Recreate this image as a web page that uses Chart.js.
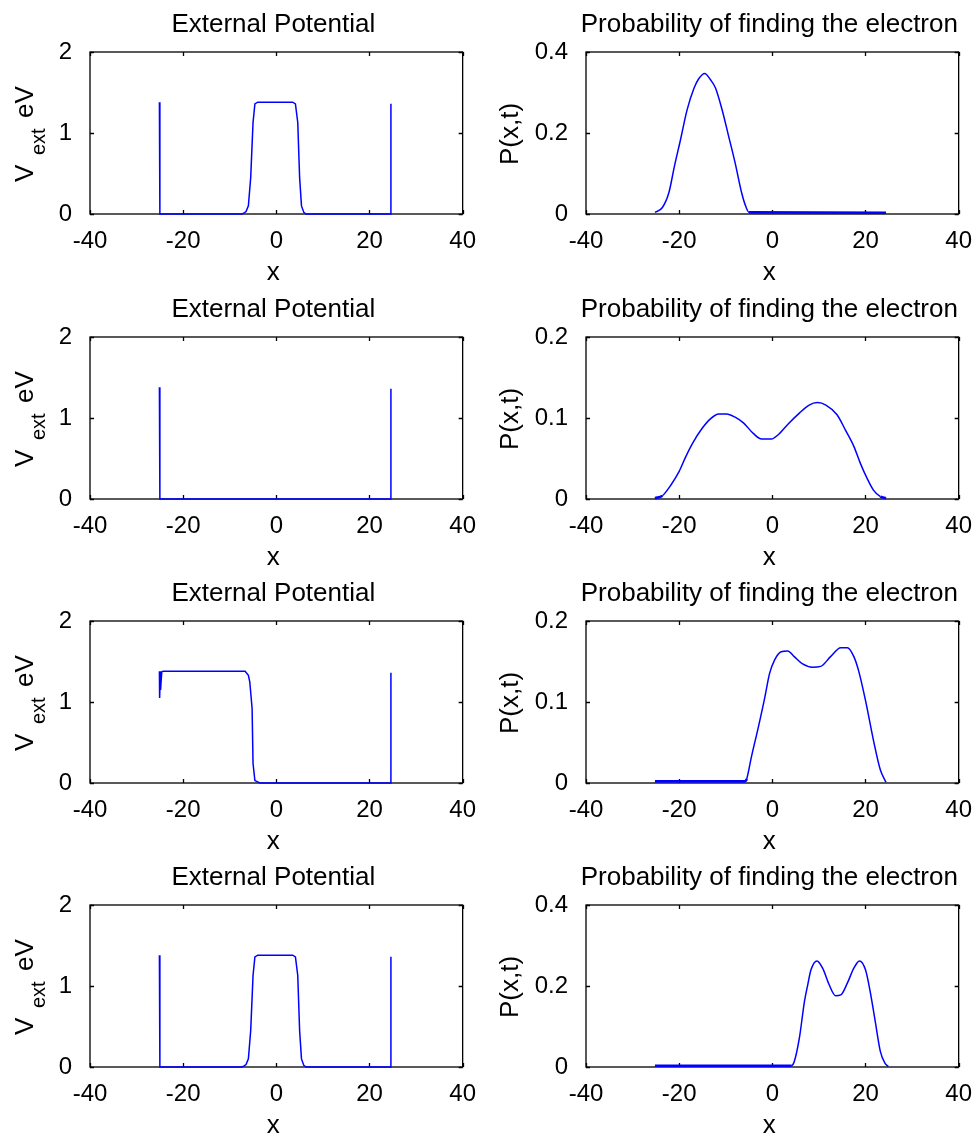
<!DOCTYPE html>
<html>
<head>
<meta charset="utf-8">
<script src="https://cdn.jsdelivr.net/npm/chart.js@4.4.1/dist/chart.umd.min.js"></script>
<style>
  html, body { margin: 0; padding: 0; background: #fff; overflow: hidden; }
  body { width: 977px; height: 1135px; position: relative; }
  canvas { position: absolute; }
</style>
</head>
<body>
<canvas id="c0" width="481" height="282" style="left:0px;top:0px"></canvas>
<canvas id="c1" width="481" height="282" style="left:496px;top:0px"></canvas>
<canvas id="c2" width="481" height="282" style="left:0px;top:285px"></canvas>
<canvas id="c3" width="481" height="282" style="left:496px;top:285px"></canvas>
<canvas id="c4" width="481" height="282" style="left:0px;top:569px"></canvas>
<canvas id="c5" width="481" height="282" style="left:496px;top:569px"></canvas>
<canvas id="c6" width="481" height="282" style="left:0px;top:853px"></canvas>
<canvas id="c7" width="481" height="282" style="left:496px;top:853px"></canvas>
<script>
// ---------- data ----------
const xTickValues = [-40, -20, 0, 20, 40];
const titlePotential = "External Potential";
const titleProb = "Probability of finding the electron";
const xLabel = "x";
const probLabel = "P(x,t)";

// External potential, barrier in the middle (rows 1 and 4)
const potA_x = [-25.1, -25.0, -7.4, -7.0, -6.5, -6.0, -5.5, -5.0, -4.6, -4.0, 3.5, 4.1, 4.6, 5.0, 5.4, 5.9, 6.4, 24.5, 24.6];
const potA_y = [1.38, 0, 0, 0.01, 0.03, 0.10, 0.45, 1.13, 1.36, 1.38, 1.38, 1.36, 1.13, 0.45, 0.10, 0.02, 0, 0, 1.36];
// External potential, walls only (row 2)
const potB_x = [-25.1, -25.0, 24.5, 24.6];
const potB_y = [1.38, 0, 0, 1.36];
// External potential, barrier on the left (row 3)
const potC_x = [-25.1, -25.05, -24.9, -24.85, -24.6, -24.3, -6.7, -6.0, -5.7, -5.2, -5.0, -4.6, -3.5, 24.5, 24.6];
const potC_y = [1.38, 1.05, 1.38, 1.15, 1.37, 1.38, 1.38, 1.33, 1.25, 0.92, 0.24, 0.03, 0, 0, 1.36];

// Probability curves
const p1_x = [-25.2, -23.6, -22.2, -21.0, -19.7, -18.3, -16.8, -15.8, -14.5, -13.3, -12.2, -10.8, -9.4, -8.0, -6.6, -5.9, -5.0, 24.4];
const p1_y = [0.004, 0.016, 0.053, 0.119, 0.184, 0.257, 0.311, 0.334, 0.347, 0.332, 0.311, 0.258, 0.193, 0.127, 0.053, 0.025, 0.004, 0.003];

const p2_x = [-25.2, -23.6, -21.8, -20.0, -18.6, -17.1, -15.1, -13.3, -11.5, -9.8, -8.0, -6.2, -4.1, -2.3, -0.2, 1.2, 3.3, 5.8, 7.9, 9.7, 11.5, 13.9, 15.7, 17.5, 18.9, 20.3, 21.7, 23.2, 24.4];
const p2_y = [0.001, 0.004, 0.017, 0.034, 0.052, 0.069, 0.087, 0.099, 0.105, 0.105, 0.101, 0.094, 0.081, 0.074, 0.074, 0.079, 0.092, 0.106, 0.116, 0.119, 0.116, 0.104, 0.085, 0.065, 0.044, 0.026, 0.011, 0.003, 0.001];

const p3_x = [-25.2, -5.9, -5.5, -4.5, -3.0, -1.6, -0.6, 0.5, 1.9, 3.3, 4.7, 6.5, 8.6, 10.4, 12.5, 14.7, 16.1, 17.5, 18.5, 20.0, 21.7, 23.2, 24.4];
const p3_y = [0.002, 0.002, 0.005, 0.032, 0.069, 0.106, 0.135, 0.152, 0.162, 0.163, 0.156, 0.147, 0.143, 0.144, 0.156, 0.167, 0.167, 0.156, 0.139, 0.102, 0.053, 0.016, 0.001];

const p4_x = [-25.2, 4.0, 4.7, 5.8, 6.9, 7.6, 8.3, 9.6, 10.8, 12.2, 13.6, 14.7, 16.1, 17.5, 18.7, 20.0, 21.0, 22.1, 23.2, 24.2, 24.9];
const p4_y = [0.003, 0.003, 0.013, 0.071, 0.162, 0.203, 0.240, 0.262, 0.244, 0.203, 0.176, 0.178, 0.207, 0.244, 0.262, 0.240, 0.187, 0.112, 0.038, 0.009, 0.001];

const potTicks = [0, 1, 2];
const probTicksHigh = [0, 0.2, 0.4];
const probTicksLow = [0, 0.1, 0.2];

// ---------- drawing ----------
const FONT = '"Liberation Sans", Arial, sans-serif';
const BLUE = '#0000ff';

const framePlugin = {
  id: 'frame',
  beforeDatasetsDraw(chart) {
    const { ctx, chartArea: a, scales: { x, y } } = chart;
    ctx.save();
    ctx.strokeStyle = '#000';
    ctx.lineWidth = 1.3;
    ctx.strokeRect(a.left, a.top, a.right - a.left, a.bottom - a.top);
    const tl = 4;
    ctx.beginPath();
    for (const t of x.ticks) {
      const px = Math.round(x.getPixelForValue(t.value)) + 0.5;
      ctx.moveTo(px, a.bottom); ctx.lineTo(px, a.bottom - tl);
      ctx.moveTo(px, a.top); ctx.lineTo(px, a.top + tl);
    }
    for (const t of y.ticks) {
      const py = Math.round(y.getPixelForValue(t.value)) + 0.5;
      ctx.moveTo(a.left, py); ctx.lineTo(a.left + tl, py);
      ctx.moveTo(a.right, py); ctx.lineTo(a.right - tl, py);
    }
    ctx.stroke();
    ctx.restore();
  },
  afterDraw(chart) {
    const { ctx, chartArea: a } = chart;
    const o = chart.options.plugins.frame;
    const cx = (a.left + a.right) / 2 - 3;
    const cy = (a.top + a.bottom) / 2;
    ctx.save();
    ctx.fillStyle = '#000';
    ctx.textBaseline = 'alphabetic';
    ctx.font = '26px ' + FONT;
    ctx.textAlign = 'center';
    ctx.fillText(o.title, cx, a.top - 20);
    ctx.fillText(xLabel, cx, a.bottom + 66);
    // y label
    if (o.kind === 'pot') {
      ctx.translate(a.left - 57, cy + 3);
      ctx.rotate(-Math.PI / 2);
      ctx.textAlign = 'left';
      ctx.font = '26px ' + FONT;
      ctx.fillText('V', -46, 0);
      ctx.font = '20px ' + FONT;
      ctx.fillText('ext', -19, 12);
      ctx.font = '26px ' + FONT;
      ctx.fillText('eV', 18, 0);
    } else {
      ctx.translate(a.left - 68, cy + 1);
      ctx.rotate(-Math.PI / 2);
      ctx.textAlign = 'center';
      ctx.font = '26px ' + FONT;
      ctx.fillText(probLabel, 0, 0);
    }
    ctx.restore();
  }
};

function makeChart(id, xs, ys, ticks, kind, title) {
  const pts = xs.map((v, i) => ({ x: v, y: ys[i] }));
  const smooth = kind === 'prob';
  return new Chart(document.getElementById(id), {
    type: 'scatter',
    data: {
      datasets: [{
        data: pts,
        showLine: true,
        borderColor: BLUE,
        backgroundColor: BLUE,
        borderWidth: 1.5,
        pointRadius: 0,
        tension: 0,
        cubicInterpolationMode: smooth ? 'monotone' : 'default',
        clip: false,
        segment: smooth ? {
          borderWidth: c => (c.p0.parsed.y < 0.006 && c.p1.parsed.y < 0.006) ? 2.6 : 1.5
        } : undefined
      }]
    },
    options: {
      responsive: false,
      animation: false,
      devicePixelRatio: 1,
      layout: { padding: { top: 52, right: 14, left: 0, bottom: 0 } },
      plugins: {
        legend: { display: false },
        tooltip: { enabled: false },
        title: { display: false },
        frame: { kind: kind, title: title }
      },
      scales: {
        x: {
          type: 'linear',
          min: xTickValues[0],
          max: xTickValues[xTickValues.length - 1],
          afterBuildTicks: s => { s.ticks = xTickValues.map(v => ({ value: v })); },
          ticks: { color: '#000', font: { family: FONT, size: 24 }, padding: 5, maxRotation: 0, autoSkip: false },
          grid: { display: false },
          border: { display: false },
          afterFit: s => { s.height = 68; }
        },
        y: {
          type: 'linear',
          min: ticks[0],
          max: ticks[ticks.length - 1],
          afterBuildTicks: s => { s.ticks = ticks.map(v => ({ value: v })); },
          ticks: { color: '#000', font: { family: FONT, size: 24 }, padding: 10, autoSkip: false },
          grid: { display: false },
          border: { display: false },
          afterFit: s => { s.width = 90; }
        }
      }
    },
    plugins: [framePlugin]
  });
}

makeChart('c0', potA_x, potA_y, potTicks, 'pot', titlePotential);
makeChart('c1', p1_x, p1_y, probTicksHigh, 'prob', titleProb);
makeChart('c2', potB_x, potB_y, potTicks, 'pot', titlePotential);
makeChart('c3', p2_x, p2_y, probTicksLow, 'prob', titleProb);
makeChart('c4', potC_x, potC_y, potTicks, 'pot', titlePotential);
makeChart('c5', p3_x, p3_y, probTicksLow, 'prob', titleProb);
makeChart('c6', potA_x, potA_y, potTicks, 'pot', titlePotential);
makeChart('c7', p4_x, p4_y, probTicksHigh, 'prob', titleProb);
</script>
</body>
</html>
